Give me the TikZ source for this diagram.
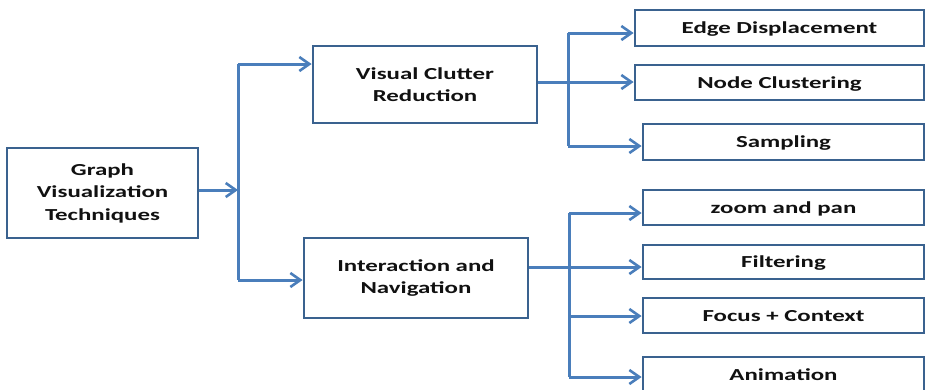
\documentclass[tikz,border=0pt]{standalone}
\usepackage{fontspec}
\setmainfont{Carlito}
\usepackage{graphicx}
\usetikzlibrary{arrows.meta}
\definecolor{linec}{HTML}{4A7EBB}
\definecolor{boxc}{HTML}{3A628F}
\definecolor{txtc}{HTML}{111111}
\newcommand\stretchtxt[1]{\scalebox{1.48}[1]{#1}}
\tikzset{
  box/.style={draw=boxc, line width=2.8pt, fill=white, inner sep=0pt,
    align=center, text=txtc, font=\fontsize{16.8}{22.5}\selectfont\bfseries},
  leaf/.style={box, text height=11.5pt, text depth=0pt},
  conn/.style={draw=linec, line width=3pt},
  arr/.style={conn, -{Straight Barb[length=10pt,width=14pt,line width=2.6pt]}},
}
\begin{document}
\begin{tikzpicture}[x=1pt,y=-1pt]
\useasboundingbox (0,0) rectangle (925,389);
\clip (0,0) rectangle (925,389);

% boxes
\node[box, minimum width=191pt, minimum height=90pt] (root) at (102.5,193)
  {\stretchtxt{Graph}\\\stretchtxt{Visualization}\\\stretchtxt{Techniques}};
\node[box, minimum width=224pt, minimum height=77pt] (vcr) at (425,84.5)
  {\stretchtxt{Visual Clutter}\\\stretchtxt{Reduction}};
\node[box, minimum width=224pt, minimum height=80pt] (inav) at (416,278)
  {\stretchtxt{Interaction and}\\\stretchtxt{Navigation}};

\node[leaf, minimum width=289pt, minimum height=36pt] (ed) at (779.5,28) {\stretchtxt{Edge Displacement}};
\node[leaf, minimum width=289pt, minimum height=35pt] (nc) at (779.5,82.5) {\stretchtxt{Node Clustering}};
\node[leaf, minimum width=281pt, minimum height=36pt] (samp) at (783.5,142) {\stretchtxt{Sampling}};

\node[leaf, minimum width=281pt, minimum height=35pt] (zp) at (783.5,207.5) {\stretchtxt{zoom and pan}};
\node[leaf, minimum width=281pt, minimum height=34pt] (filt) at (783.5,262) {\stretchtxt{Filtering}};
\node[leaf, minimum width=281pt, minimum height=35pt] (fc) at (783.5,315.5) {\stretchtxt{Focus + Context}};
\node[leaf, minimum width=281pt, minimum height=35pt] (anim) at (783.5,374.5) {\stretchtxt{Animation}};

% first fork
\coordinate (j0) at (238,190);
\coordinate (j0t) at (238,64);
\coordinate (j0b) at (238,280);
\draw[arr] (root.east |- j0) -- (j0);
\draw[conn] (j0t) -- (j0b);
\draw[arr] (j0t) -- (vcr.west |- j0t);
\draw[arr] (j0b) -- (inav.west |- j0b);

% upper fork
\coordinate (j1t) at (568,33);
\coordinate (j1m) at (568,82);
\coordinate (j1b) at (568,146);
\draw[conn] (vcr.east |- j1m) -- (j1m);
\draw[conn] (j1t) -- (j1b);
\draw[arr] (j1t) -- (ed.west |- j1t);
\draw[arr] (j1m) -- (nc.west |- j1m);
\draw[arr] (j1b) -- (samp.west |- j1b);

% lower fork
\coordinate (j2t) at (569,213);
\coordinate (j2m) at (569,267);
\coordinate (j2c) at (569,316);
\coordinate (j2b) at (569,377);
\draw[conn] (inav.east |- j2m) -- (j2m);
\draw[conn] (j2t) -- (j2b);
\draw[arr] (j2t) -- (zp.west |- j2t);
\draw[arr] (j2m) -- (filt.west |- j2m);
\draw[arr] (j2c) -- (fc.west |- j2c);
\draw[arr] (j2b) -- (anim.west |- j2b);
\end{tikzpicture}
\end{document}
